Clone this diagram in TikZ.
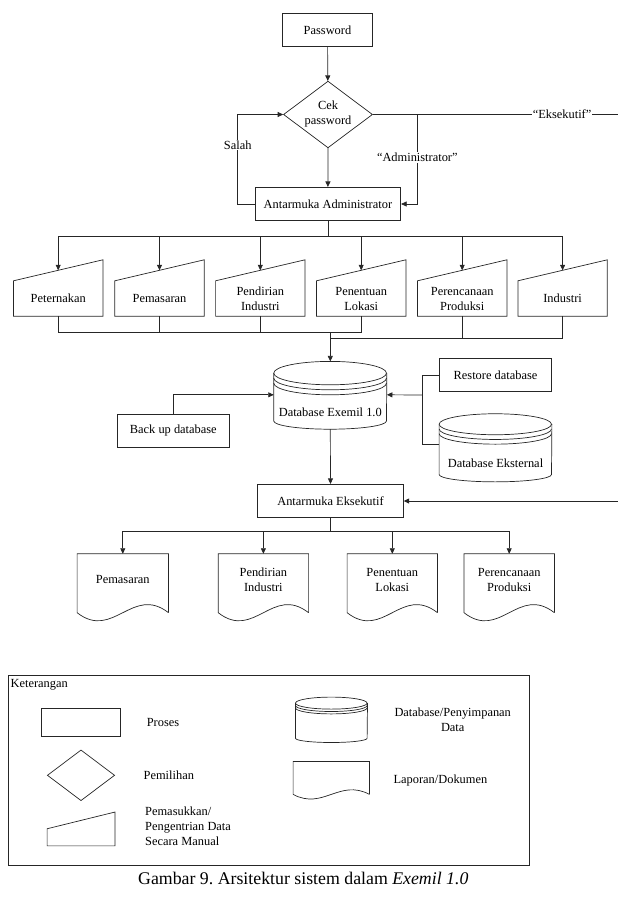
\documentclass[tikz,border=0pt]{standalone}
\usepackage{fontspec}
\setmainfont{Liberation Serif}
\usetikzlibrary{shapes.geometric,arrows.meta}

\begin{document}
\begin{tikzpicture}[x=1pt, y=-1pt,
    garis/.style={draw=black!85, line width=0.7pt},
    panah/.style={garis, -{Triangle[length=5.5pt,width=5pt]}},
    teks/.style={font=\fontsize{12.4}{15}\selectfont, align=center},
    kotak/.style={garis, teks, rectangle, inner sep=0pt},
    pilih/.style={garis, teks, diamond, aspect=1.33, inner sep=0pt},
    bentuk/.style={teks, inner sep=0pt},
    ket/.style={teks, fill=white, inner sep=1pt}]

    \useasboundingbox (0, 0) rectangle (618, 924);
    \clip (0, 0) rectangle (618, 924);

    % Bagian administrator
    \node[kotak, minimum width=89.6pt, minimum height=33.4pt] (pwd) at (327.5, 30) {Password};
    \node[pilih, minimum width=89pt, minimum height=66.7pt] (cek) at (328, 114.5) {Cek\\password};
    \node[kotak, minimum width=145.7pt, minimum height=33.4pt] (adm) at (327.9, 204) {Antarmuka Administrator};

    \node[bentuk, minimum width=89pt, minimum height=35pt] (pet) at (58.2, 298.5) {Peternakan};
    \node[bentuk, minimum width=89pt, minimum height=35pt] (pem) at (159.5, 298.5) {Pemasaran};
    \node[bentuk, minimum width=89pt, minimum height=35pt] (pen) at (260.3, 298.5) {Pendirian\\Industri};
    \node[bentuk, minimum width=89pt, minimum height=35pt] (lok) at (361.2, 298.5) {Penentuan\\Lokasi};
    \node[bentuk, minimum width=89pt, minimum height=35pt] (ren) at (462.2, 298.5) {Perencanaan\\Produksi};
    \node[bentuk, minimum width=89pt, minimum height=35pt] (ind) at (562.6, 298.5) {Industri};

    \foreach \n in {pet, pem, pen, lok, ren, ind}
        \draw[garis] (\n.south west) -- (\n.north west) -- ([yshift=21pt]\n.north east) -- (\n.south east) -- cycle;

    % Basis data
    \node[bentuk, minimum width=112.7pt, minimum height=34pt] (dbx) at (330.3, 412) {Database Exemil 1.0};
    \node[kotak, minimum width=112.4pt, minimum height=33.4pt] (rst) at (495.5, 375) {Restore database};
    \node[bentuk, minimum width=112.4pt, minimum height=37.3pt] (dbe) at (495.5, 463) {Database Eksternal};
    \node[kotak, minimum width=112pt, minimum height=33.7pt] (bkp) at (173.3, 430.8) {Back up database};

    % Bagian eksekutif
    \node[kotak, minimum width=145.7pt, minimum height=33.4pt] (eks) at (330.5, 501) {Antarmuka Eksekutif};

    \node[bentuk, minimum width=91pt, minimum height=51pt] (lpm) at (122.8, 579.5) {Pemasaran};
    \node[bentuk, minimum width=90pt, minimum height=51pt] (lpd) at (263.4, 579.5) {Pendirian\\Industri};
    \node[bentuk, minimum width=90pt, minimum height=51pt] (llk) at (392.3, 579.5) {Penentuan\\Lokasi};
    \node[bentuk, minimum width=90pt, minimum height=51pt] (lpr) at (509.2, 579.5) {Perencanaan\\Produksi};

    % Keterangan
    \draw[garis] (8.7, 675) rectangle (529.4, 865);
    \node[teks, anchor=west, inner sep=0pt] (ktr) at (10.5, 684.3) {Keterangan};

    \node[kotak, minimum width=78.4pt, minimum height=28.4pt] (kproses) at (81, 722.5) {};
    \node[pilih, minimum width=67.4pt, minimum height=50.7pt] (kpilih) at (81, 775.3) {};
    \node[bentuk, minimum width=67.4pt, minimum height=16.7pt] (kmanual) at (81, 837.3) {};
    \node[bentuk, minimum width=71.6pt, minimum height=28.2pt] (kdb) at (331.5, 728.2) {};
    \node[bentuk, minimum width=76pt, minimum height=25pt] (kdok) at (331.3, 774.2) {};

    \draw[garis] (kmanual.south west) -- (kmanual.north west) -- ([yshift=16.7pt]kmanual.north east) -- (kmanual.south east) -- cycle;

    \node[teks, anchor=west, inner sep=0pt] (tproses) at (146.6, 722.3) {Proses};
    \node[teks, anchor=west, inner sep=0pt] (tpilih) at (143.5, 775.7) {Pemilihan};
    \node[teks, anchor=west, inner sep=0pt, align=left] (tmanual) at (145, 826.6) {Pemasukkan/\\Pengentrian Data\\Secara Manual};
    \node[teks, inner sep=0pt] (tdb) at (452.7, 719.6) {Database/Penyimpanan\\Data};
    \node[teks, anchor=west, inner sep=0pt] (tdok) at (393.4, 780.7) {Laporan/Dokumen};

    % Tabung basis data
    \foreach \n/\rx/\ry/\s in {dbx/56.35/11.7/5, dbe/56.2/10.5/4.7, kdb/35.8/6/2.4} {
        \draw[garis] ([yshift={(\ry+2*\s)*1pt}]\n.north west)
            arc[start angle=180, end angle=-180, x radius={\rx*1pt}, y radius={\ry*1pt}];
        \draw[garis] ([yshift={(\ry+\s)*1pt}]\n.north west)
            arc[start angle=180, end angle=360, x radius={\rx*1pt}, y radius={\ry*1pt}];
        \draw[garis] ([yshift={\ry*1pt}]\n.north west)
            arc[start angle=180, end angle=360, x radius={\rx*1pt}, y radius={\ry*1pt}];
        \draw[garis] ([yshift={(\ry+2*\s)*1pt}]\n.north west) -- ([yshift={0.7*\ry*1pt}]\n.south west)
            arc[start angle=180, end angle=360, x radius={\rx*1pt}, y radius={0.7*\ry*1pt}]
            -- ([yshift={(\ry+2*\s)*1pt}]\n.north east);
    }
    \coordinate (dbxtop) at ([yshift=33.4pt]dbx.north);

    % Dokumen laporan
    \foreach \n/\cx/\cy in {lpm/36/28, lpd/36/28, llk/36/28, lpr/36/28, kdok/30/16}
        \draw[garis] ([yshift=-7.5pt]\n.south east) -- (\n.north east) -- (\n.north west) -- ([yshift=-7.5pt]\n.south west)
            .. controls +({\cx*1pt},{-\cy*1pt}) and +({-\cx*1pt},{\cy*1pt}) .. ([yshift=-7.5pt]\n.south east);

    % Panah
    \draw[panah] (pwd) -- (cek);
    \draw[panah] (cek) -- (adm);
    \coordinate (slh) at (237.7, 204);
    \draw[panah] (adm.west) -- (slh) |- node[ket, pos=0.33] {Salah} (cek.west);

    \coordinate (adj) at (417.3, 114.5);
    \coordinate (eka) at (625, 114.5);
    \coordinate (ekb) at (625, 501);
    \draw[garis] (cek.east) -- (adj);
    \draw[panah] (adj) |- node[ket, pos=0.24] {“Administrator”} (adm.east);
    \draw[panah] (adj) -- node[ket, pos=0.697] {“Eksekutif”} (eka) -- (ekb) -- (eks.east);

    \coordinate (busA) at (327.9, 236.7);
    \draw[garis] (adm.south) -- (busA);
    \foreach \n in {pet, pem, pen, lok, ren, ind}
        \draw[panah] (busA) -| ([yshift=10.5pt]\n.north);

    \coordinate (mrgA) at (330.3, 332.3);
    \coordinate (mrgB) at (330.3, 338.3);
    \foreach \n in {pet, pem, pen, lok}
        \draw[garis] (\n.south) |- (mrgA);
    \foreach \n in {ren, ind}
        \draw[garis] (\n.south) |- (mrgB);
    \draw[panah] (mrgA) -- (dbxtop);

    \draw[panah] (bkp.north) |- (dbx.north west);
    \coordinate (jn) at (422.7, 395);
    \draw[garis] (rst.west) -| (jn) |- (dbe.north west);
    \draw[panah] (jn) -- (dbx.north east);

    \draw[panah] (dbx.south) -- (eks.north);
    \coordinate (busB) at (330.5, 531.7);
    \draw[garis] (eks.south) -- (busB);
    \foreach \n in {lpm, lpd, llk, lpr}
        \draw[panah] (busB) -| (\n.north);

    \node[inner sep=0pt, font=\fontsize{17.8}{20}\selectfont] (judul) at (303.3, 878.3) {Gambar 9.\ Arsitektur sistem dalam \textit{Exemil 1.0}};

\end{tikzpicture}
\end{document}
